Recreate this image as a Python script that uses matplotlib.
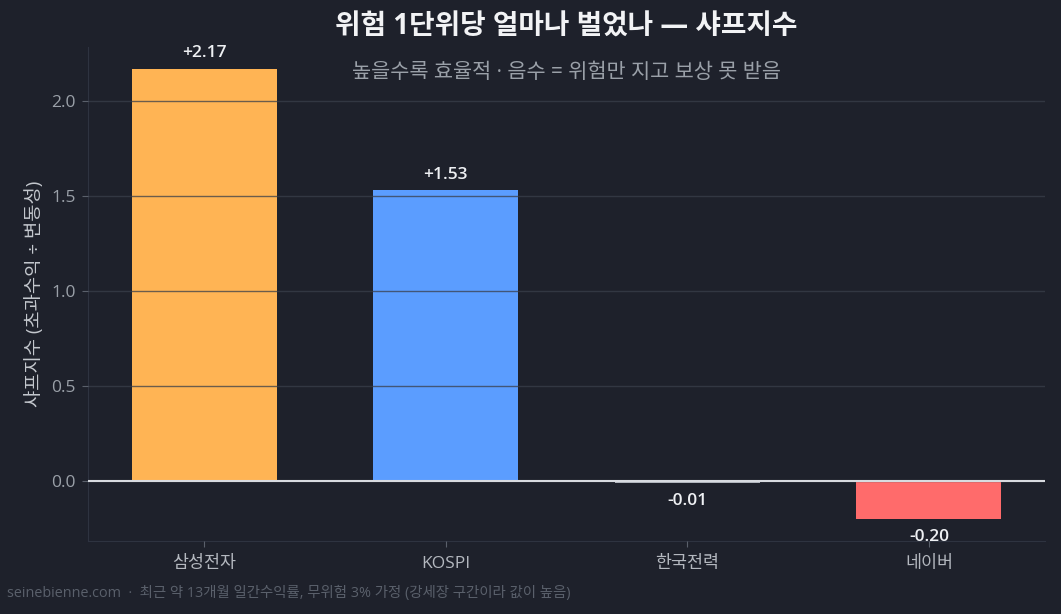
import numpy as np
import matplotlib
matplotlib.use('Agg')
import matplotlib.pyplot as plt

names = ['삼성전자', 'KOSPI', '한국전력', '네이버']
sharpe = [2.17, 1.53, -0.01, -0.20]
colors = ['#FFB454', '#5B9DFF', '#C5C9D0', '#FF6B6B']

bg = '#1E212B'
plt.rcParams['font.family'] = ['Open Sans', 'Noto Sans CJK KR', 'DejaVu Sans']
plt.rcParams['axes.unicode_minus'] = False

fig = plt.figure(figsize=(10.61, 6.14), dpi=100, facecolor=bg)
ax = fig.add_axes([88/1061, 1-541/614, (1045-88)/1061, (541-47)/614], facecolor=bg)

x = np.arange(len(names))
ax.bar(x, sharpe, width=0.6, color=colors, zorder=1)
ax.axhline(0, color='#D8DBE0', lw=1.5, zorder=3)

for xi, v in zip(x, sharpe):
    off = 5.5 if v >= 0 else -7.5
    ax.annotate(f'{v:+.2f}', (xi, v), xytext=(0, off), textcoords='offset points',
                ha='center', va='bottom' if v >= 0 else 'top',
                color='#EEF0F3', fontsize=12.5, fontweight='semibold', zorder=4)

ax.set_ylim(-0.316, 2.284)
ax.set_yticks([0, 0.5, 1.0, 1.5, 2.0])
ax.yaxis.grid(True, color='#3A3F4A', alpha=0.75, lw=1, zorder=2)
ax.set_axisbelow(False)
ax.set_xticks(x)
ax.set_xticklabels(names)
ax.tick_params(axis='x', colors='#5A606B', labelcolor='#B4B8BF', labelsize=12.5, length=4, pad=7)
ax.tick_params(axis='y', colors='#5A606B', labelcolor='#9AA0A8', labelsize=12.5, length=4, pad=5)
for s in ['top', 'right']:
    ax.spines[s].set_visible(False)
for s in ['left', 'bottom']:
    ax.spines[s].set_color('#2E3340')

ax.set_ylabel('샤프지수 (초과수익 ÷ 변동성)', color='#C4C8CE', fontsize=13.5, labelpad=5)
ax.set_title('위험 1단위당 얼마나 벌었나 — 샤프지수', color='#F2F3F5', fontsize=20,
             fontweight='bold', pad=9)
ax.text(0.5, 0.948, '높을수록 효율적 · 음수 = 위험만 지고 보상 못 받음', transform=ax.transAxes,
        ha='center', va='center', color='#9AA0A8', fontsize=15)
fig.text(7/1061, 1-593/614, 'seinebienne.com  ·  최근 약 13개월 일간수익률, 무위험 3% 가정 (강세장 구간이라 값이 높음)',
         ha='left', va='center', color='#5A606B', fontsize=10.4)

fig.savefig('out.png', dpi=100, facecolor=bg)
